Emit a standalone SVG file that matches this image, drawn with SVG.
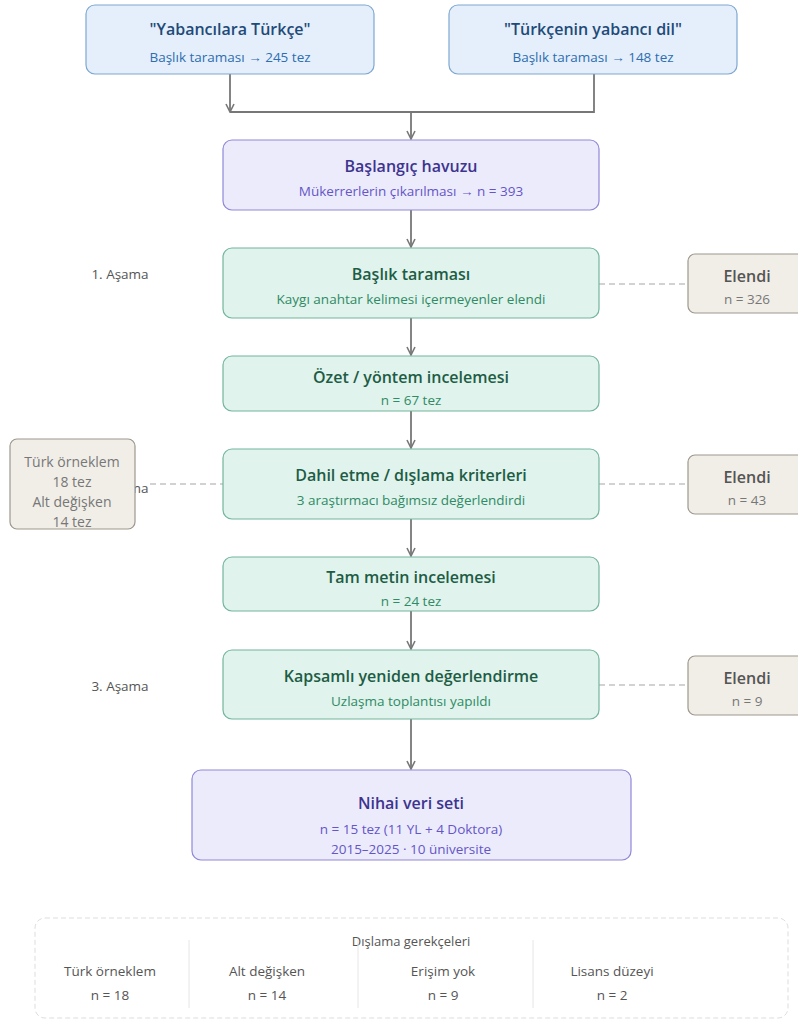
<svg xmlns="http://www.w3.org/2000/svg" width="798" height="1019" viewBox="0 0 798 1019">
<style>
text{font-family:"Open Sans","Noto Sans",sans-serif;text-anchor:middle}
.t{font-size:16px;font-weight:600}
.s{font-size:13.5px}
.blue rect{fill:#e4effb;stroke:#7fa7d0;stroke-width:1.2}
.blue .t{fill:#1f4a78}.blue .s{fill:#2e6db0}
.pur rect{fill:#ecebfb;stroke:#8f88d8;stroke-width:1.2}
.pur .t{fill:#3d3490}.pur .s{fill:#6456c8}
.grn rect{fill:#e0f3ec;stroke:#72b69b;stroke-width:1.2}
.grn .t{fill:#1d5c45}.grn .s{fill:#2f8a65}
.gry rect{fill:#f1eee8;stroke:#9d978d;stroke-width:1.2}
.gry .t{fill:#555}.gry .s{fill:#777}
.stage{font-size:13.5px;fill:#555}
.conn path{fill:none;stroke:#777;stroke-width:1.8}
.conn path.dash{fill:none;stroke:#c4c4c4;stroke-width:1.3;stroke-dasharray:6 4}
.leg text{font-size:13.5px;fill:#555}
</style>
<defs>
<marker id="ah" viewBox="0 0 10 10" refX="9" refY="5" markerWidth="10" markerHeight="10" markerUnits="userSpaceOnUse" orient="auto">
<path d="M1,1 L9,5 L1,9" fill="none" stroke="#777" stroke-width="1.6"/>
</marker>
</defs>

<g id="stages">
<text class="stage" x="120" y="279">1. Aşama</text>
<text class="stage" x="120" y="493">2. Aşama</text>
<text class="stage" x="120" y="691">3. Aşama</text>
</g>

<g class="conn" id="connectors">
<path d="M230,74 V112" marker-end="url(#ah)"/>
<path d="M230,112 H594 V74"/>
<path d="M411,112 V139" marker-end="url(#ah)"/>
<path d="M411,210 V247" marker-end="url(#ah)"/>
<path d="M411,318 V355" marker-end="url(#ah)"/>
<path d="M411,411 V448" marker-end="url(#ah)"/>
<path d="M411,519 V556" marker-end="url(#ah)"/>
<path d="M411,611 V649" marker-end="url(#ah)"/>
<path d="M411,719 V769" marker-end="url(#ah)"/>
<path class="dash" d="M599,284 H688"/>
<path class="dash" d="M599,484 H688"/>
<path class="dash" d="M150,484 H223"/>
<path class="dash" d="M599,685 H688"/>
</g>

<g id="src1" class="blue">
<rect x="86" y="5" width="288" height="69" rx="9"/>
<text class="t" x="230" y="35">"Yabancılara Türkçe"</text>
<text class="s" x="230" y="62">Başlık taraması → 245 tez</text>
</g>
<g id="src2" class="blue">
<rect x="449" y="5" width="288" height="69" rx="9"/>
<text class="t" x="593" y="35">"Türkçenin yabancı dil"</text>
<text class="s" x="593" y="62">Başlık taraması → 148 tez</text>
</g>

<g id="pool" class="pur">
<rect x="223" y="140" width="376" height="70" rx="9"/>
<text class="t" x="411" y="172">Başlangıç havuzu</text>
<text class="s" x="411" y="196">Mükerrerlerin çıkarılması → n = 393</text>
</g>

<g id="title" class="grn">
<rect x="223" y="248" width="376" height="70" rx="9"/>
<text class="t" x="411" y="280">Başlık taraması</text>
<text class="s" x="411" y="304">Kaygı anahtar kelimesi içermeyenler elendi</text>
</g>

<g id="abstract" class="grn">
<rect x="223" y="356" width="376" height="55" rx="9"/>
<text class="t" x="411" y="383">Özet / yöntem incelemesi</text>
<text class="s" x="411" y="405">n = 67 tez</text>
</g>

<g id="criteria" class="grn">
<rect x="223" y="449" width="376" height="70" rx="9"/>
<text class="t" x="411" y="481">Dahil etme / dışlama kriterleri</text>
<text class="s" x="411" y="505">3 araştırmacı bağımsız değerlendirdi</text>
</g>

<g id="fulltext" class="grn">
<rect x="223" y="557" width="376" height="54" rx="9"/>
<text class="t" x="411" y="583">Tam metin incelemesi</text>
<text class="s" x="411" y="606">n = 24 tez</text>
</g>

<g id="reeval" class="grn">
<rect x="223" y="650" width="376" height="69" rx="9"/>
<text class="t" x="411" y="682">Kapsamlı yeniden değerlendirme</text>
<text class="s" x="411" y="706">Uzlaşma toplantısı yapıldı</text>
</g>

<g id="final" class="pur">
<rect x="192" y="770" width="439" height="90" rx="9"/>
<text class="t" x="411" y="809">Nihai veri seti</text>
<text class="s" x="411" y="834">n = 15 tez (11 YL + 4 Doktora)</text>
<text class="s" x="411" y="854">2015–2025 · 10 üniversite</text>
</g>

<g id="excl1" class="gry">
<rect x="688" y="254" width="118" height="59" rx="7"/>
<text class="t" x="747" y="282">Elendi</text>
<text class="s" x="747" y="304">n = 326</text>
</g>
<g id="excl2" class="gry">
<rect x="688" y="455" width="118" height="59" rx="7"/>
<text class="t" x="747" y="483">Elendi</text>
<text class="s" x="747" y="505">n = 43</text>
</g>
<g id="excl3" class="gry">
<rect x="688" y="656" width="118" height="59" rx="7"/>
<text class="t" x="747" y="684">Elendi</text>
<text class="s" x="747" y="706">n = 9</text>
</g>

<g id="exclLeft" class="gry">
<rect x="10" y="439" width="125" height="90" rx="7"/>
<text class="s" x="72" y="467" style="font-size:14px">Türk örneklem</text>
<text class="s" x="72" y="487" style="font-size:14px">18 tez</text>
<text class="s" x="72" y="507" style="font-size:14px">Alt değişken</text>
<text class="s" x="72" y="527" style="font-size:14px">14 tez</text>
</g>

<g id="legend" class="leg">
<rect x="35" y="918" width="753" height="100" rx="10" fill="none" stroke="#ddd" stroke-width="1" stroke-dasharray="5 3"/>
<text x="411" y="946" style="font-size:13px">Dışlama gerekçeleri</text>
<path d="M189,940 V1008 M358,940 V1008 M533,940 V1008" stroke="#e6e6e6" stroke-width="1"/>
<text x="110" y="976">Türk örneklem</text>
<text x="110" y="1000">n = 18</text>
<text x="267" y="976">Alt değişken</text>
<text x="267" y="1000">n = 14</text>
<text x="443" y="976">Erişim yok</text>
<text x="443" y="1000">n = 9</text>
<text x="612" y="976">Lisans düzeyi</text>
<text x="612" y="1000">n = 2</text>
</g>
</svg>
